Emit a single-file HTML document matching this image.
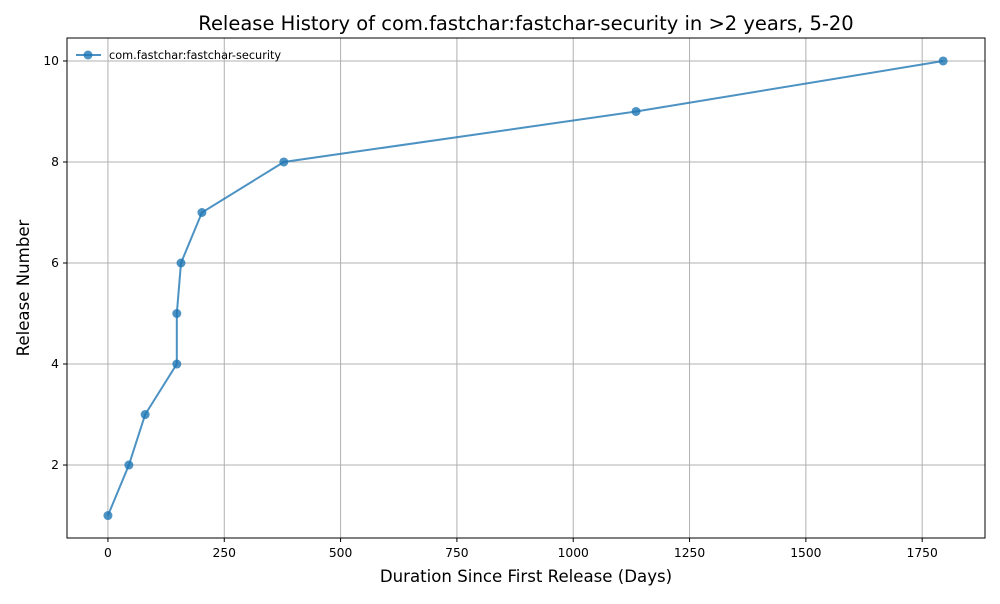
<!DOCTYPE html>
<html><head><meta charset="utf-8"><style>
body{margin:0;background:#fff;font-family:"DejaVu Sans","Liberation Sans",sans-serif}
svg text{font-family:"DejaVu Sans","Liberation Sans",sans-serif}
</style></head><body>
<svg id="chart" width="1000" height="600" xmlns="http://www.w3.org/2000/svg">
<rect width="1000" height="600" fill="#fff"/>
<g id="grid"></g>
<g id="series"></g>
<rect x="67" y="38" width="918" height="500" fill="none" stroke="#000" stroke-width="1"/>
<g id="axes"></g>
<text x="526" y="30" text-anchor="middle" font-size="19.5">Release History of com.fastchar:fastchar-security in &gt;2 years, 5-20</text>
<text x="526" y="582" text-anchor="middle" font-size="16.6">Duration Since First Release (Days)</text>
<text transform="translate(29,288) rotate(-90)" text-anchor="middle" font-size="16.6">Release Number</text>
<g>
<line x1="76" y1="55" x2="101" y2="55" stroke="#1f77b4" stroke-opacity="0.8" stroke-width="2"/>
<circle cx="88" cy="55" r="4.5" fill="#1f77b4" fill-opacity="0.8"/>
<text x="109" y="59" font-size="11.3">com.fastchar:fastchar-security</text>
</g>
</svg>
<script>
const days = [0, 45, 80, 148, 148, 157, 202, 378, 1135, 1795];
const releases = [1, 2, 3, 4, 5, 6, 7, 8, 9, 10];
const xTicks = [0, 250, 500, 750, 1000, 1250, 1500, 1750];
const yTicks = [2, 4, 6, 8, 10];
const NS = "http://www.w3.org/2000/svg";
const L=67,R=985,T=38,B=538, xmin=-88, xmax=1885, ymin=0.555, ymax=10.455;
const xs=v=>L+(v-xmin)/(xmax-xmin)*(R-L);
const ys=v=>B-(v-ymin)/(ymax-ymin)*(B-T);
function mk(tag,a,p){const e=document.createElementNS(NS,tag);for(const k in a)e.setAttribute(k,a[k]);p.appendChild(e);return e;}
const grid=document.getElementById('grid'),axes=document.getElementById('axes'),ser=document.getElementById('series');
xTicks.forEach(t=>{const x=xs(t);
 const g=mk('line',{x1:x,x2:x,y1:T,y2:B,stroke:'#b0b0b0','stroke-width':1},grid);
 
 
 mk('line',{x1:x,x2:x,y1:B,y2:B+4,stroke:'#000'},axes);
 const tx=mk('text',{x:x,y:B+19,'text-anchor':'middle','font-size':12.3},axes);tx.textContent=t;
 
 });
yTicks.forEach(t=>{const y=ys(t);
 const g=mk('line',{x1:L,x2:R,y1:y,y2:y,stroke:'#b0b0b0','stroke-width':1},grid);
 
 
 mk('line',{x1:L-4,x2:L,y1:y,y2:y,stroke:'#000'},axes);
 const tx=mk('text',{x:L-8,y:y+4,'text-anchor':'end','font-size':12.3},axes);tx.textContent=t;
 
 });
const pts=days.map((d,i)=>xs(d)+','+ys(releases[i])).join(' ');
const pl=mk('polyline',{points:pts,fill:'none',stroke:'#1f77b4','stroke-opacity':0.8,'stroke-width':2},ser);


days.forEach((d,i)=>{const c=mk('circle',{cx:xs(d),cy:ys(releases[i]),r:4.5,fill:'#1f77b4','fill-opacity':0.8},ser);
 
 });
</script>
</body></html>
